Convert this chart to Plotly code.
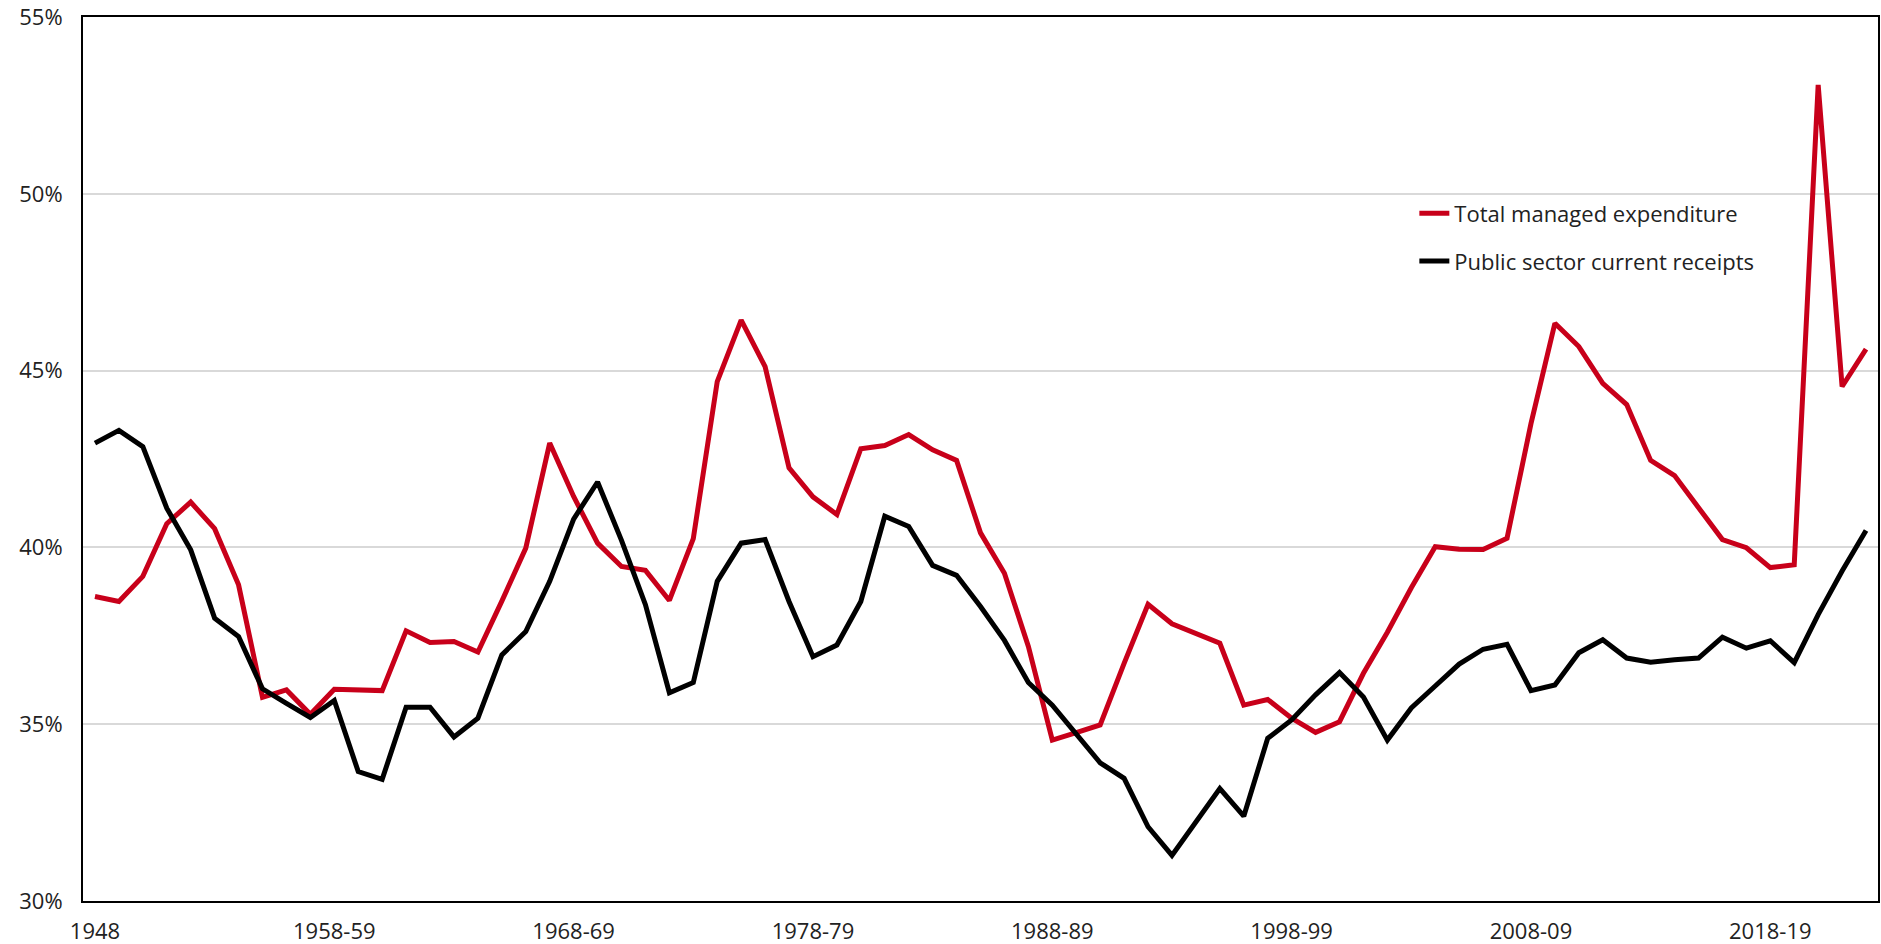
import plotly.graph_objects as go

categories = [
    "1948", "1949-50", "1950-51", "1951-52", "1952-53", "1953-54", "1954-55", "1955-56",
    "1956-57", "1957-58", "1958-59", "1959-60", "1960-61", "1961-62", "1962-63", "1963-64",
    "1964-65", "1965-66", "1966-67", "1967-68", "1968-69", "1969-70", "1970-71", "1971-72",
    "1972-73", "1973-74", "1974-75", "1975-76", "1976-77", "1977-78", "1978-79", "1979-80",
    "1980-81", "1981-82", "1982-83", "1983-84", "1984-85", "1985-86", "1986-87", "1987-88",
    "1988-89", "1989-90", "1990-91", "1991-92", "1992-93", "1993-94", "1994-95", "1995-96",
    "1996-97", "1997-98", "1998-99", "1999-00", "2000-01", "2001-02", "2002-03", "2003-04",
    "2004-05", "2005-06", "2006-07", "2007-08", "2008-09", "2009-10", "2010-11", "2011-12",
    "2012-13", "2013-14", "2014-15", "2015-16", "2016-17", "2017-18", "2018-19", "2019-20",
    "2020-21", "2021-22", "2022-23",
]

total_managed_expenditure = [
    38.61, 38.47, 39.18, 40.67, 41.28, 40.53, 38.94, 35.76, 35.97, 35.28,
    35.99, 35.97, 35.95, 37.64, 37.31, 37.34, 37.04, 38.48, 39.98, 42.95,
    41.44, 40.12, 39.46, 39.35, 38.50, 40.25, 44.69, 46.43, 45.11, 42.25,
    41.43, 40.93, 42.79, 42.88, 43.19, 42.76, 42.46, 40.41, 39.27, 37.20,
    34.55, 34.76, 34.98, 36.72, 38.39, 37.84, 37.57, 37.29, 35.54, 35.70,
    35.17, 34.77, 35.07, 36.44, 37.60, 38.86, 40.02, 39.95, 39.94, 40.26,
    43.50, 46.34, 45.68, 44.64, 44.04, 42.46, 42.03, 41.15, 40.22, 39.99,
    39.43, 39.51, 53.08, 44.55, 45.61,
]

public_sector_current_receipts = [
    42.95, 43.31, 42.85, 41.11, 39.93, 38.00, 37.48, 36.00, 35.59, 35.19,
    35.67, 33.66, 33.44, 35.48, 35.48, 34.64, 35.17, 36.96, 37.62, 39.04,
    40.80, 41.85, 40.20, 38.38, 35.89, 36.18, 39.04, 40.12, 40.22, 38.47,
    36.91, 37.24, 38.47, 40.88, 40.59, 39.49, 39.21, 38.33, 37.37, 36.18,
    35.54, 34.74, 33.91, 33.47, 32.10, 31.29, 32.24, 33.18, 32.40, 34.60,
    35.12, 35.83, 36.46, 35.77, 34.55, 35.46, 36.08, 36.70, 37.12, 37.26,
    35.95, 36.11, 37.02, 37.39, 36.87, 36.75, 36.82, 36.87, 37.46, 37.15,
    37.36, 36.74, 38.10, 39.33, 40.48,
]

x_tick_labels = ["1948", "1958-59", "1968-69", "1978-79", "1988-89", "1998-99", "2008-09", "2018-19"]
y_tick_values = [30, 35, 40, 45, 50, 55]
y_tick_labels = ["30%", "35%", "40%", "45%", "50%", "55%"]

FONT = "Open Sans, Noto Sans, sans-serif"
TEXT_COLOR = "#222222"

fig = go.Figure()
fig.add_trace(go.Scatter(
    x=categories, y=total_managed_expenditure, mode="lines",
    name="Total managed expenditure", legendgroup="a",
    line=dict(color="#C8001A", width=5),
))
fig.add_trace(go.Scatter(
    x=categories, y=public_sector_current_receipts, mode="lines",
    name="Public sector current receipts", legendgroup="b",
    line=dict(color="#000000", width=5),
))

fig.update_layout(
    template="none",
    width=1881, height=944,
    margin=dict(l=83, r=3, t=17, b=43, autoexpand=False),
    paper_bgcolor="white", plot_bgcolor="white",
    font=dict(family=FONT, size=22, color=TEXT_COLOR),
    showlegend=True,
    legend=dict(
        x=0.7417, y=0.8014, xanchor="left", yanchor="top",
        bgcolor="rgba(0,0,0,0)", font=dict(size=22, color=TEXT_COLOR),
        tracegroupgap=16, traceorder="grouped",
    ),
    xaxis=dict(
        type="category", range=[-0.5, 74.5], automargin=False,
        tickmode="array", tickvals=x_tick_labels, ticktext=x_tick_labels,
        showgrid=False, showline=True, linecolor="#000000", linewidth=2, mirror=True,
        ticks="", ticklabelstandoff=10, tickfont=dict(size=22),
    ),
    yaxis=dict(
        range=[30, 55], automargin=False,
        tickmode="array", tickvals=y_tick_values, ticktext=y_tick_labels,
        showgrid=True, gridcolor="#d9d9d9", gridwidth=1.5,
        showline=True, linecolor="#000000", linewidth=2, mirror=True,
        ticks="", ticklabelstandoff=14, tickfont=dict(size=22), zeroline=False,
    ),
)

fig.write_html(
    "out.html",
    config={"displayModeBar": False},
    post_script="document.body.style.margin='0';document.body.style.overflow='hidden';",
)
